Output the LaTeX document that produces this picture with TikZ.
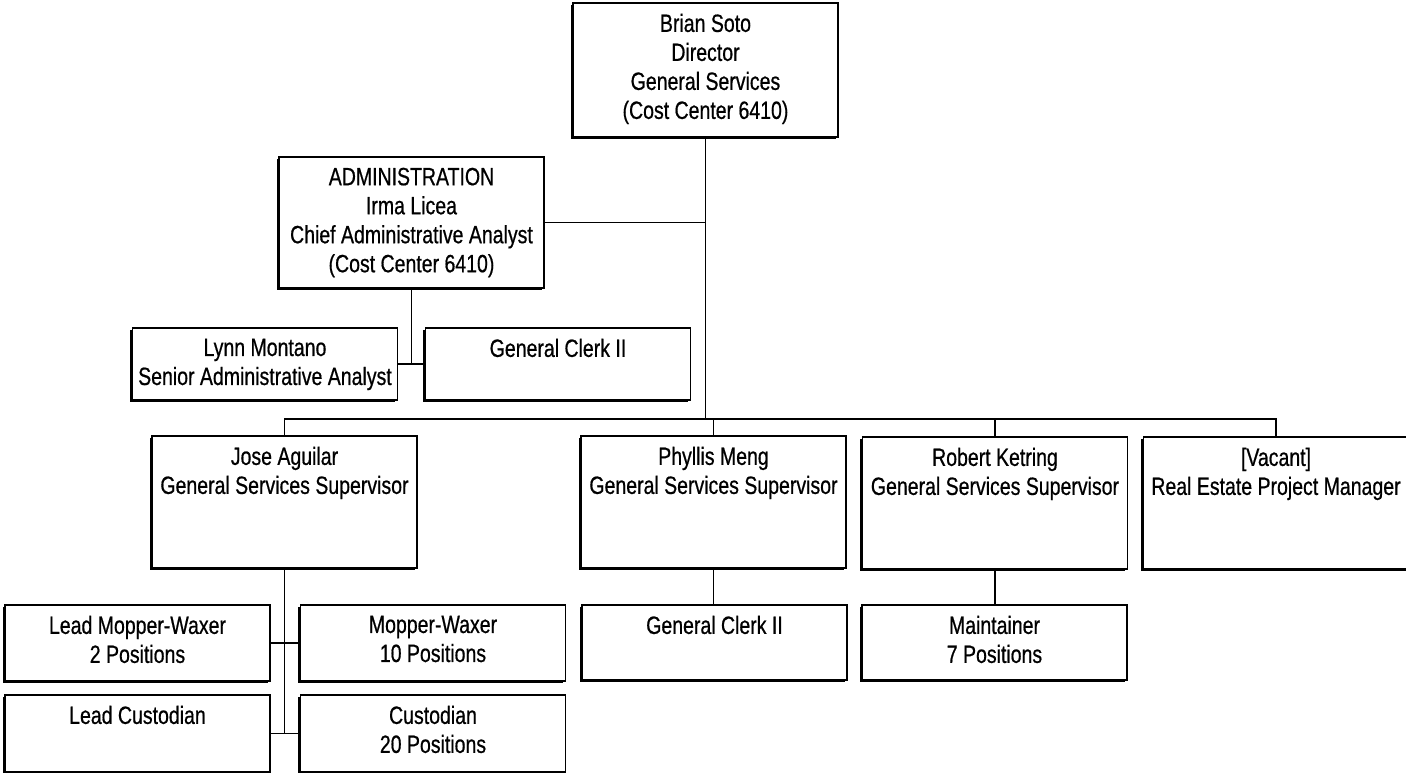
\documentclass[tikz,border=0pt]{standalone}
\usepackage{fontspec}
\setmainfont[FakeStretch=0.78, FakeBold=0.6]{Liberation Sans}
\usetikzlibrary{shadows}
\tikzset{
    post/.style={draw, line width=1.5pt, fill=white, minimum width=265pt, inner sep=0pt,
        drop shadow={shadow xshift=-2.4pt, shadow yshift=-2.4pt, opacity=1, fill=black}},
    txt/.style={anchor=north, align=center, yshift=-8pt, font=\fontsize{25pt}{29pt}\selectfont},
    link/.style={line width=1.3pt}
}

\begin{document}
\begin{tikzpicture}[x=1pt, y=-1pt]
            \useasboundingbox (0,0) rectangle (1406,773);
            \node[post, minimum height=134pt, label={[txt]north:{Brian Soto\\Director\\General Services\\(Cost Center 6410)}}] (dir) at (705.5,70) {};
            \node[post, minimum height=131pt, label={[txt]north:{ADMINISTRATION\\Irma Licea\\Chief Administrative Analyst\\(Cost Center 6410)}}] (admin) at (411.5,222.5) {};
            \node[post, minimum height=72pt, label={[txt]north:{Lynn Montano\\Senior Administrative Analyst}}] (lynn) at (265,364) {};
            \node[post, minimum height=72pt, label={[txt]north:{General Clerk II}}] (clerka) at (558,364) {};
            \node[post, minimum height=132pt, label={[txt]north:{Jose Aguilar\\General Services Supervisor}}] (jose) at (284.5,502) {};
            \node[post, minimum height=132pt, label={[txt]north:{Phyllis Meng\\General Services Supervisor}}] (phyllis) at (713.5,502) {};
            \node[post, minimum height=132pt, label={[txt]north:{Robert Ketring\\General Services Supervisor}}] (robert) at (995,503) {};
            \node[post, minimum height=132pt, label={[txt]north:{[Vacant]\\Real Estate Project Manager}}] (vacant) at (1276,503) {};
            \node[post, minimum height=76pt, label={[txt]north:{Lead Mopper-Waxer\\2 Positions}}] (leadmop) at (137.5,643) {};
            \node[post, minimum height=76pt, label={[txt]north:{Mopper-Waxer\\10 Positions}}] (mop) at (433,643) {};
            \node[post, minimum height=77pt, label={[txt]north:{Lead Custodian}}] (leadcust) at (137.5,733.5) {};
            \node[post, minimum height=77pt, label={[txt]north:{Custodian\\20 Positions}}] (cust) at (433,733.5) {};
            \node[post, minimum height=75pt, label={[txt]north:{General Clerk II}}] (clerkb) at (714.5,642.5) {};
            \node[post, minimum height=75pt, label={[txt]north:{Maintainer\\7 Positions}}] (maint) at (994.5,642.5) {};
            \coordinate (bus) at (705.5,419);
            \draw[link] (dir.south) -- (bus); \draw[link] (admin.east) -- (admin.east -| dir.south);
            \draw[link] (admin.south) -- (admin.south |- lynn.east); \draw[link] (lynn.east) -- (clerka.west);
            \draw[link] (jose.north) |- (bus) -| (vacant.north);
            \draw[link] (phyllis.north) -- (phyllis.north |- bus); \draw[link] (robert.north) -- (robert.north |- bus);
            \draw[link] (jose.south) -- (jose.south |- leadcust.east);
            \draw[link] (leadmop.east) -- (mop.west); \draw[link] (leadcust.east) -- (cust.west);
            \draw[link] (phyllis.south) -- (phyllis.south |- clerkb.north); \draw[link] (robert.south) -- (robert.south |- maint.north);
        \end{tikzpicture}
\end{document}
